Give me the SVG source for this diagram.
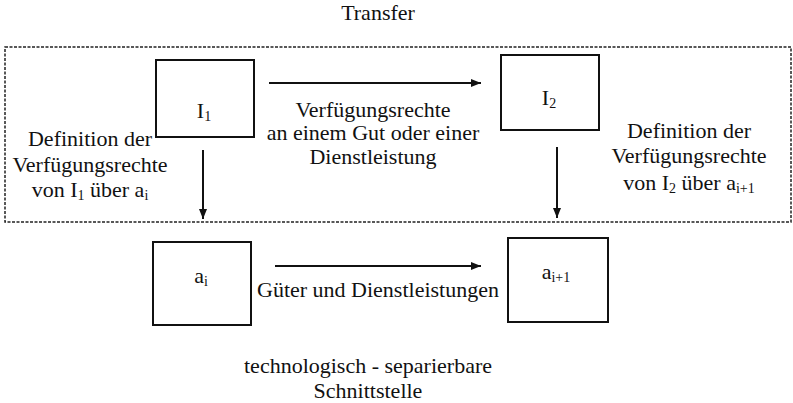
<svg xmlns="http://www.w3.org/2000/svg" width="793" height="403" viewBox="0 0 793 403">
<style>
text{font-family:"Liberation Serif","Times New Roman",serif;font-size:22px;fill:#111;text-anchor:middle}
.sub{font-size:14px}
.box{fill:#fff;stroke:#111;stroke-width:2}
.con{stroke:#111;stroke-width:2;fill:none}
</style>
<defs>
<marker id="ah" viewBox="0 0 10 8" refX="10" refY="4" markerWidth="10" markerHeight="8" markerUnits="userSpaceOnUse" orient="auto">
<path d="M0,0 L10,4 L0,8 z" fill="#111"/>
</marker>
</defs>
<g id="transfer-area">
<rect x="5" y="47" width="786" height="175" fill="none" stroke="#222" stroke-width="1.5" stroke-dasharray="3,1.5"/>
<text x="378" y="20">Transfer</text>
</g>
<g id="I1">
<rect class="box" x="156" y="60" width="98" height="77"/>
<text x="204" y="118">I<tspan class="sub" dy="3">1</tspan></text>
</g>
<g id="I2">
<rect class="box" x="501" y="55" width="98" height="75"/>
<text x="549" y="105">I<tspan class="sub" dy="3">2</tspan></text>
</g>
<g id="ai">
<rect class="box" x="153" y="242" width="98" height="83"/>
<text x="201" y="283">a<tspan class="sub" dy="3">i</tspan></text>
</g>
<g id="ai1">
<rect class="box" x="508" y="238" width="100" height="84"/>
<text x="556" y="279">a<tspan class="sub" dy="3">i+1</tspan></text>
</g>
<g id="connectors">
<line class="con" x1="269" y1="83" x2="481" y2="83" marker-end="url(#ah)"/>
<line class="con" x1="203" y1="150" x2="203" y2="219" marker-end="url(#ah)"/>
<line class="con" x1="557" y1="147" x2="557" y2="218" marker-end="url(#ah)"/>
<line class="con" x1="275" y1="266" x2="481" y2="266" marker-end="url(#ah)"/>
</g>
<g id="labels">
<text x="373" y="117">Verfügungsrechte</text>
<text x="373" y="140">an einem Gut oder einer</text>
<text x="373" y="164">Dienstleistung</text>
<text x="90" y="146">Definition der</text>
<text x="90" y="172">Verfügungsrechte</text>
<text x="90" y="197">von I<tspan class="sub" dy="3">1</tspan><tspan dy="-3"> über a</tspan><tspan class="sub" dy="3">i</tspan></text>
<text x="689" y="138">Definition der</text>
<text x="689" y="163">Verfügungsrechte</text>
<text x="689" y="190">von I<tspan class="sub" dy="3">2</tspan><tspan dy="-3"> über a</tspan><tspan class="sub" dy="3">i+1</tspan></text>
<text x="378" y="297">Güter und Dienstleistungen</text>
<text x="368" y="373">technologisch - separierbare</text>
<text x="368" y="398">Schnittstelle</text>
</g>
</svg>
